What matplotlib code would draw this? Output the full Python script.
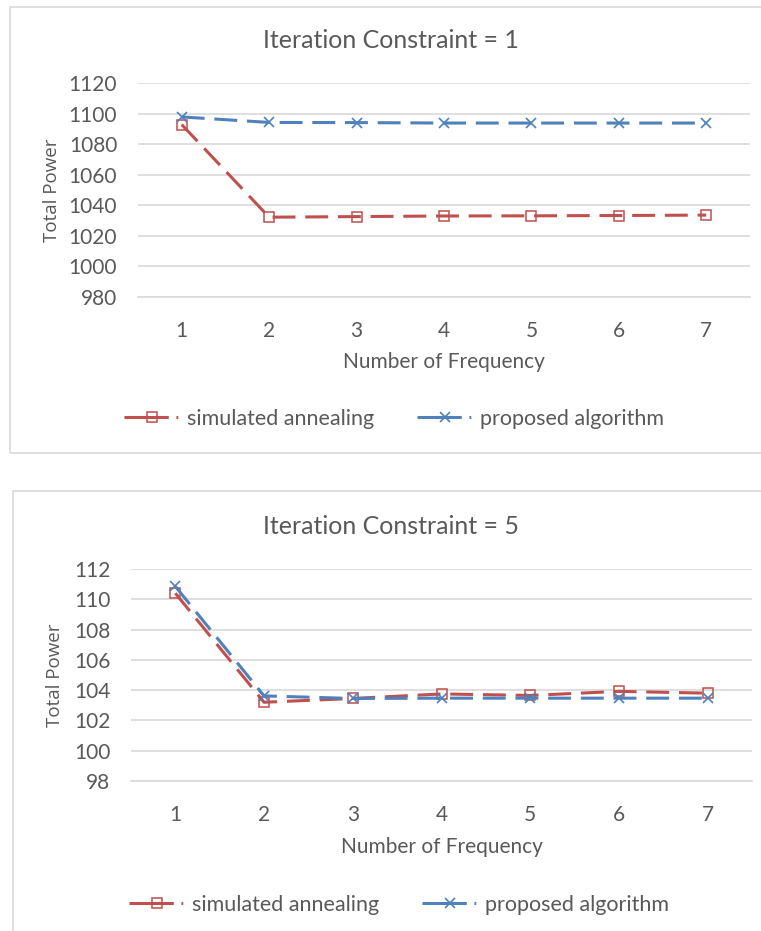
import matplotlib
matplotlib.use("Agg")
import matplotlib.pyplot as plt
from matplotlib.lines import Line2D
from matplotlib.patches import Rectangle

W, H = 761, 931

freq = [1, 2, 3, 4, 5, 6, 7]
freq_labels = ["1", "2", "3", "4", "5", "6", "7"]

# iteration constraint = 1
sa_iter1 = [1092.8, 1032.2, 1032.6, 1033.0, 1033.1, 1033.3, 1033.6]
pa_iter1 = [1097.8, 1094.2, 1094.1, 1093.8, 1093.8, 1093.8, 1093.8]
yticks_iter1 = [980, 1000, 1020, 1040, 1060, 1080, 1100, 1120]

# iteration constraint = 5
sa_iter5 = [110.4, 103.2, 103.45, 103.75, 103.65, 103.92, 103.8]
pa_iter5 = [110.85, 103.62, 103.45, 103.47, 103.47, 103.47, 103.47]
yticks_iter5 = [98, 100, 102, 104, 106, 108, 110, 112]

titles = ["Iteration Constraint = 1", "Iteration Constraint = 5"]
series_names = ["simulated annealing", "proposed algorithm"]

RED = "#C0504D"
BLUE = "#4F81BD"
GRID = "#D9D9D9"
TXT = "#595959"
FONT = "Lato"
YFONT = "Open Sans"
DASH = (0, (7.5, 3.2))            # excel "long dash"
LEG_DASH = (0, (14.5, 2.5, 0.6, 2.5))


def fx(px):
    return px / W


def fy(py):
    return 1 - py / H


fig = plt.figure(figsize=(W / 100, H / 100), dpi=100)
fig.patch.set_facecolor("white")

# chart boxes (pixel layout)
boxes = [(10, 7, 800, 446), (13, 491, 800, 500)]
for bx, by, bw, bh in boxes:
    fig.patches.append(Rectangle((fx(bx), fy(by + bh)), bw / W, bh / H,
                                 transform=fig.transFigure, fill=False,
                                 edgecolor=GRID, lw=1.2))

layout = [
    # left, right, top, bottom, title_y, ylab_x, ylab_y, xlab_x, xlab_y, leg_x, leg_y
    (138, 750, 83, 297, 40, 52, 190, 444, 362, 394, 419),
    (131, 752, 569, 781, 526, 55, 675, 442, 847, 399, 905),
]
data = [(sa_iter1, pa_iter1, yticks_iter1), (sa_iter5, pa_iter5, yticks_iter5)]

for i, (sa, pa, yt) in enumerate(data):
    l, r, t, b, ty, ylx, yly, xlx, xly, lgx, lgy = layout[i]
    ax = fig.add_axes([fx(l), fy(b), (r - l) / W, (b - t) / H])
    ax.plot(freq, sa, color=RED, lw=2.2, ls=DASH, marker="s",
            ms=7.5, mfc="none", mec=RED, mew=1.1, label=series_names[0])
    ax.plot(freq, pa, color=BLUE, lw=2.2, ls=DASH, marker="x",
            ms=7, mec=BLUE, mew=1.2, label=series_names[1])
    ax.set_xlim(0.5, 7.5)
    ax.set_ylim(yt[0], yt[-1])
    ax.set_xticks(freq)
    ax.set_xticklabels(freq_labels)
    ax.set_yticks(yt)
    ax.set_yticklabels([str(v) for v in yt])
    ax.grid(axis="y", color=GRID, lw=1.2)
    ax.set_axisbelow(True)
    for s in ["top", "left", "right"]:
        ax.spines[s].set_visible(False)
    ax.spines["bottom"].set_color(GRID)
    ax.spines["bottom"].set_linewidth(1.2)
    ax.tick_params(length=0, labelsize=15, labelcolor=TXT)
    ax.tick_params(axis="y", pad=15)
    ax.tick_params(axis="x", pad=17)
    for lab in ax.get_xticklabels() + ax.get_yticklabels():
        lab.set_fontfamily(FONT)

    fig.text(fx(391), fy(ty), titles[i], ha="center", va="center",
             fontsize=18, color=TXT, family=FONT)
    fig.text(fx(ylx), fy(yly), "Total Power", ha="center", va="center",
             rotation=90, fontsize=13.5, color=TXT, family=YFONT)
    fig.text(fx(xlx), fy(xly), "Number of Frequency", ha="center",
             va="center", fontsize=15, color=TXT, family=FONT)

    handles = [
        Line2D([], [], color=RED, lw=2.2, ls=LEG_DASH,
               marker="s", ms=7.5, mfc="none", mec=RED, mew=1.1),
        Line2D([], [], color=BLUE, lw=2.2, ls=LEG_DASH,
               marker="x", ms=7, mec=BLUE, mew=1.2),
    ]
    leg = ax.legend(handles, series_names, loc="center",
                    bbox_to_anchor=(fx(lgx), fy(lgy)),
                    bbox_transform=fig.transFigure, ncol=2, frameon=False,
                    handlelength=2.6, handletextpad=0.3, columnspacing=2.0,
                    prop={"family": FONT, "size": 15.5})
    for txt in leg.get_texts():
        txt.set_color(TXT)

fig.savefig("out.png", dpi=100, facecolor="white")
